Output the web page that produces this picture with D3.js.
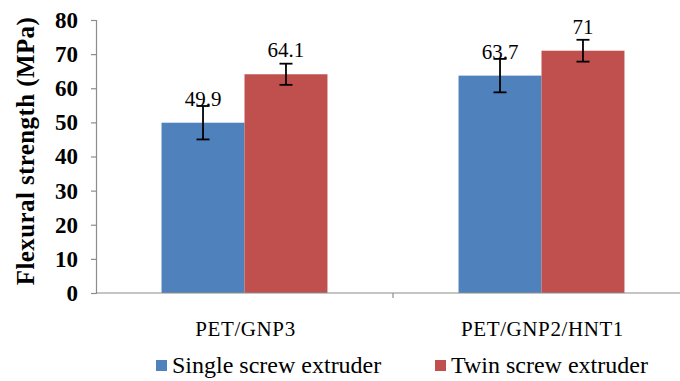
<!DOCTYPE html>
<html>
<head>
<meta charset="utf-8">
<script src="https://cdn.jsdelivr.net/npm/d3@7"></script>
<style>
  html, body { margin: 0; padding: 0; background: #fff; }
  svg { display: block; }
</style>
</head>
<body>
<svg id="chart" width="680" height="381"></svg>
<script>
// Flexural strength of PET nanocomposites by extruder type
const categories = ["PET/GNP3", "PET/GNP2/HNT1"];
const seriesNames = ["Single screw extruder", "Twin screw extruder"];
const singleScrew = [49.9, 63.7];
const twinScrew = [64.1, 71];
const singleScrewErr = [4.9, 4.9];
const twinScrewErr = [3.1, 3.2];
const yTicks = [0, 10, 20, 30, 40, 50, 60, 70, 80];
const colors = ["#4F81BD", "#C0504D"];

const serifFont = '"Liberation Serif"';

const rows = categories.map((c, i) => ({
  category: c,
  bars: [
    { series: seriesNames[0], value: singleScrew[i], err: singleScrewErr[i] },
    { series: seriesNames[1], value: twinScrew[i], err: twinScrewErr[i] }
  ]
}));

const svg = d3.select("#chart");
const plotLeft = 96, plotRight = 690, plotTop = 20, plotBottom = 293;

const x = d3.scaleBand().domain(categories).range([plotLeft, plotRight]).paddingInner(0).paddingOuter(0);
const xs = d3.scaleBand().domain(seriesNames).range([0, x.bandwidth()]).paddingInner(0).paddingOuter(0.79);
const y = d3.scaleLinear().domain([0, 80]).range([plotBottom, plotTop]);
const color = d3.scaleOrdinal().domain(seriesNames).range(colors);

// Y axis
const yAxis = svg.append("g").attr("transform", `translate(${plotLeft},0)`)
  .call(d3.axisLeft(y).tickValues(yTicks).tickSize(5).tickPadding(13));
yAxis.attr("font-family", null).attr("font-size", null);
yAxis.select(".domain").attr("stroke", "#8c8c8c").attr("stroke-width", 1.2);
yAxis.selectAll(".tick line").attr("stroke", "#8c8c8c").attr("stroke-width", 1.2);
yAxis.selectAll(".tick text")
  .style("font-family", serifFont)
  .style("font-size", "23px").style("font-weight", "bold").attr("fill", "#000");

// Bars
const groups = svg.append("g").selectAll("g").data(rows).join("g")
  .attr("transform", d => `translate(${x(d.category)},0)`);

groups.selectAll("rect").data(d => d.bars).join("rect")
  .attr("x", d => xs(d.series))
  .attr("y", d => y(d.value))
  .attr("width", xs.bandwidth())
  .attr("height", d => y(0) - y(d.value))
  .attr("fill", d => color(d.series));

// Error bars
const cap = 6.5;
const eb = groups.selectAll("g.err").data(d => d.bars).join("g").attr("class", "err")
  .attr("stroke", "#000").attr("stroke-width", 1.8);
eb.append("line")
  .attr("x1", d => xs(d.series) + xs.bandwidth() / 2)
  .attr("x2", d => xs(d.series) + xs.bandwidth() / 2)
  .attr("y1", d => y(d.value + d.err))
  .attr("y2", d => y(d.value - d.err));
eb.append("line")
  .attr("x1", d => xs(d.series) + xs.bandwidth() / 2 - cap)
  .attr("x2", d => xs(d.series) + xs.bandwidth() / 2 + cap)
  .attr("y1", d => y(d.value + d.err))
  .attr("y2", d => y(d.value + d.err));
eb.append("line")
  .attr("x1", d => xs(d.series) + xs.bandwidth() / 2 - cap)
  .attr("x2", d => xs(d.series) + xs.bandwidth() / 2 + cap)
  .attr("y1", d => y(d.value - d.err))
  .attr("y2", d => y(d.value - d.err));

// Value labels
groups.selectAll("text.val").data(d => d.bars).join("text").attr("class", "val")
  .attr("x", d => xs(d.series) + xs.bandwidth() / 2)
  .attr("y", d => y(d.value) - 17)
  .attr("text-anchor", "middle")
  .style("font-family", serifFont)
  .style("font-size", "21px")
  .text(d => d.value);

// X axis
svg.append("line").attr("x1", plotLeft).attr("x2", plotRight).attr("y1", plotBottom).attr("y2", plotBottom)
  .attr("stroke", "#8c8c8c").attr("stroke-width", 1.2);
svg.selectAll("line.xtick").data(categories.slice(1)).join("line").attr("class", "xtick")
  .attr("x1", d => x(d)).attr("x2", d => x(d))
  .attr("y1", plotBottom).attr("y2", plotBottom + 5)
  .attr("stroke", "#8c8c8c").attr("stroke-width", 1.2);

svg.selectAll("text.cat").data(categories).join("text").attr("class", "cat")
  .attr("x", d => x(d) + x.bandwidth() / 2 + 1)
  .attr("y", 336)
  .attr("text-anchor", "middle")
  .style("font-family", serifFont)
  .style("font-size", "21px")
  .style("letter-spacing", "0.6px")
  .text(d => d);

// Y axis title
svg.append("text")
  .attr("transform", "translate(34,151) rotate(-90)")
  .attr("text-anchor", "middle")
  .style("font-family", serifFont)
  .style("font-size", "25px").style("font-weight", "bold")
  .style("letter-spacing", "0.4px")
  .text("Flexural strength (MPa)");

// Legend
const legendX = [156, 435];
const legend = svg.selectAll("g.legend").data(seriesNames).join("g").attr("class", "legend")
  .attr("transform", (d, i) => `translate(${legendX[i]},360)`);
legend.append("rect").attr("width", 11).attr("height", 11).attr("fill", d => color(d));
legend.append("text").attr("x", 16).attr("y", 13)
  .style("font-family", serifFont)
  .style("font-size", "24px")
  .text(d => d);
</script>
</body>
</html>
